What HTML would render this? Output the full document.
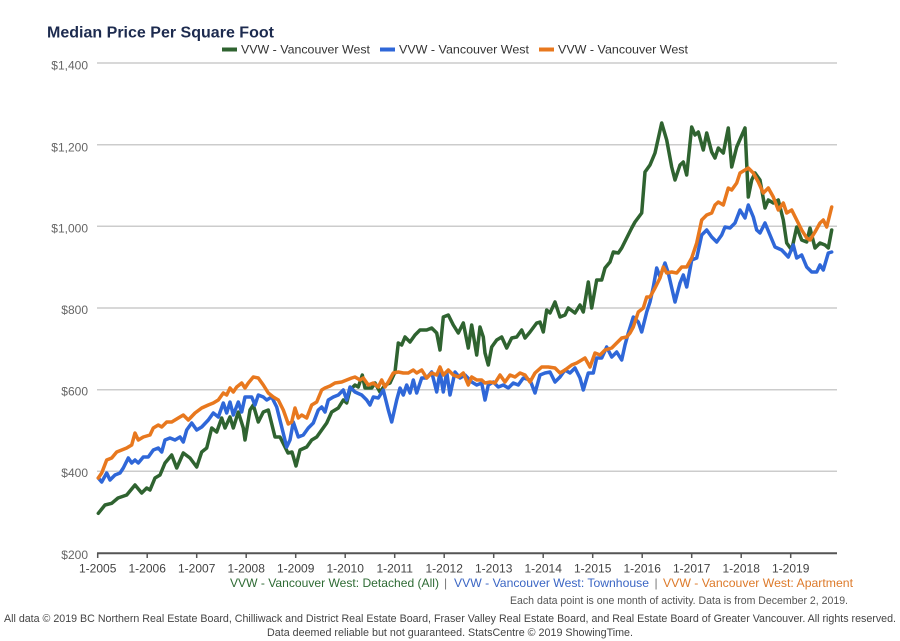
<!DOCTYPE html>
<html>
<head>
<meta charset="utf-8">
<style>
  html,body{margin:0;padding:0;background:#fff;}
  svg{display:block;font-family:"Liberation Sans",Arial,sans-serif;}
</style>
</head>
<body>
<svg width="900" height="641" viewBox="0 0 900 641" xmlns="http://www.w3.org/2000/svg">
  <rect width="900" height="641" fill="#fff"/>
  <!-- title -->
  <text x="47" y="37.5" font-size="16" font-weight="bold" fill="#1d2b4f" textLength="227" lengthAdjust="spacingAndGlyphs">Median Price Per Square Foot</text>

  <!-- top legend -->
  <rect x="222" y="47.5" width="15" height="4" fill="#2f6330"/>
  <text x="241" y="53.5" font-size="12" fill="#333" textLength="129" lengthAdjust="spacingAndGlyphs">VVW - Vancouver West</text>
  <rect x="380" y="47.5" width="15" height="4" fill="#2f67d8"/>
  <text x="399" y="53.5" font-size="12" fill="#333" textLength="130" lengthAdjust="spacingAndGlyphs">VVW - Vancouver West</text>
  <rect x="539" y="47.5" width="15" height="4" fill="#e8781e"/>
  <text x="558" y="53.5" font-size="12" fill="#333" textLength="130" lengthAdjust="spacingAndGlyphs">VVW - Vancouver West</text>

  <!-- gridlines -->
  <g stroke="#cccccc" stroke-width="1.5">
    <line x1="97" y1="63" x2="837" y2="63"/>
    <line x1="97" y1="144.7" x2="837" y2="144.7"/>
    <line x1="97" y1="226.3" x2="837" y2="226.3"/>
    <line x1="97" y1="308" x2="837" y2="308"/>
    <line x1="97" y1="389.7" x2="837" y2="389.7"/>
    <line x1="97" y1="471.3" x2="837" y2="471.3"/>
  </g>
  <!-- y labels -->
  <g font-size="12" fill="#666" text-anchor="end">
    <text x="88" y="69.5">$1,400</text>
    <text x="88" y="151.5">$1,200</text>
    <text x="88" y="232.5">$1,000</text>
    <text x="88" y="314">$800</text>
    <text x="88" y="395.5">$600</text>
    <text x="88" y="477">$400</text>
    <text x="88" y="559">$200</text>
  </g>

  <!-- series -->
  <g fill="none" stroke-width="3.5" stroke-linejoin="round" stroke-linecap="round">
    <polyline stroke="#2f6330" points="98.3,513.3 105,505 111.7,503.3 118,498 126.7,495 135,485 141.7,493 146.7,488 150,490 155,478 160,475 165,463 171.7,455 176.7,468 183.3,453 190,458 196.7,467 201.7,452 206.7,448 211.7,428 216.7,432 221.7,418 225,428 230,417 233.3,428 238.3,412 243.3,428 245,440 250,410 253.3,405 258.3,422 263.3,412 268.3,410 275,437 280,437 284,445 288,453 292,452 296,466 300,450 306.7,447 311.7,440 316.7,437 321.7,430 326.7,423 331.7,412 338.3,408 343.3,400 346.7,403 350,390 355,385 358.3,387 362.3,375 365,388 371.7,388 375,383 380,392 385,385 390,383 395,372 398.3,343 401.7,345 405,337 410,342 415,335 420,330 426.7,330 431.7,328 436.7,333 440,350 443.3,317 448.3,315 453.3,325 458.3,333 463.3,323 468.3,348 471.7,325 476.7,355 480,327 483.3,337 485,353 488.3,365 491.7,347 496.7,340 501.7,337 506.7,348 511.7,338 516.7,337 521.7,330 525,338 530,332 536.7,323 540,322 543.3,332 546.7,310 550,313 555,302 560,317 565,315 568.3,308 575,313 580,305 583.3,312 588.3,282 591.7,308 596.7,280 601.7,280 605,268 610,262 613.3,252 618.3,253 621.7,248 626.7,238 631.7,228 635,222 641.7,213 645,172 650,165 655,153 661.7,123 666.7,140 671.7,167 675,180 680,165 683.3,162 686.7,175 691.7,127 695,135 698.3,132 703.3,150 706.7,133 711.7,152 715,158 718.3,148 723.3,153 728.3,128 731.7,167 736.7,147 745,128 748.3,197 751.7,180 755,173 760,180 765,208 768.3,200 773.3,203 778.3,200 783.3,220 786.7,243 791.7,250 796.7,227 801.7,240 806.7,242 810,228 815,248 820,243 825,245 828.3,248 831.7,230"/>
    <polyline stroke="#2f67d8" points="98.3,478 101.7,482 106.7,473 110,480 115,475 120,473 123.3,468 128.3,458 131.7,463 135,460 138.3,463 143.3,457 148.3,457 153.3,450 158.3,448 161.7,452 165,440 170,438 175,440 180,437 183.3,442 186.7,430 191.7,423 196.7,430 201.7,427 208.3,420 213.3,413 218.3,417 223.3,403 226.7,413 230,402 233.3,415 238.3,402 241.7,412 245,397 251.7,397 255,405 258.3,395 263.3,397 266.7,400 271.7,397 276.7,407 281.7,427 286.7,447 290,440 293.3,422 298.3,437 303.3,435 308.3,428 313.3,423 318.3,410 321.7,407 325,412 328.3,400 333.3,397 338.3,395 343.3,390 346.7,400 350,387 355,392 361.7,395 366.7,400 370,405 373.3,397 378.3,398 383.3,390 388.3,410 391.7,422 396.7,400 400,388 403.3,395 406.7,385 410,393 413.3,380 416.7,393 421.7,378 426.7,378 431.7,372 436.7,392 440,372 443.3,392 446.7,372 450,395 455,372 460,378 465,375 471.7,382 476.7,385 481.7,383 485,400 488.3,385 493.3,382 498.3,387 503.3,385 508.3,388 513.3,383 518.3,385 523.3,378 530,380 535,393 540,375 545,373 550,372 555,382 560,377 565,370 570,373 575,368 580,378 583.3,390 588.3,373 593.3,373 596.7,358 601.7,358 606.7,347 611.7,357 616.7,352 621.7,360 625,345 628.3,333 633.3,317 638.3,322 641.7,332 646.7,312 650,302 653.3,287 656.7,268 660,277 665,263 668.3,273 675,302 680,283 683.3,275 686.7,287 691.7,260 696.7,258 701.7,235 706.7,230 711.7,237 716.7,242 721.7,235 725,227 730,228 735,223 740,210 745,218 748.3,205 753.3,217 756.7,230 760,233 765,223 770,235 775,247 781.7,250 788.3,257 793.3,245 796.7,258 801.7,255 806.7,267 811.7,272 816.7,272 820,265 823.3,270 828.3,253 831.7,252"/>
    <polyline stroke="#e8781e" points="98.3,478 101.7,473 106.7,460 111.7,458 116.7,452 121.7,450 126.7,448 131.7,445 135,433 138.3,440 143.3,437 150,435 153.3,428 158.3,425 161.7,427 166.7,422 171.7,422 178.3,418 183.3,415 188.3,420 195,413 201.7,408 208.3,405 213.3,403 218.3,400 223.3,393 226.7,395 230,388 233.3,392 236.7,387 241.7,383 245,388 248.3,383 253.3,377 258.3,378 263.3,385 268.3,393 273.3,397 278.3,400 283.3,410 288.3,424 291.7,422 295,408 298.3,418 301.7,415 306.7,418 311.7,405 316.7,402 321.7,390 325,388 330,386 335,383 341.7,382 346.7,380 351.7,378 355,377 360,380 363.3,378 368.3,385 373.3,383 378.3,387 381.7,380 385,387 388.3,382 393.3,373 398.3,372 403.3,373 408.3,373 413.3,370 416.7,373 421.7,370 426.7,378 431.7,373 436.7,375 440,367 443.3,375 448.3,370 453.3,375 458.3,377 463.3,373 468.3,385 471.7,377 476.7,380 481.7,380 485,383 490,382 495,383 500,375 505,382 510,375 515,377 520,373 525,375 530,382 535,373 541.7,367 548.3,367 555,368 560,373 565,370 571.7,365 576.7,363 581.7,360 585,358 590,367 595,353 600,355 605,350 611.7,348 616.7,343 621.7,338 626.7,337 630,333 633.3,327 638.3,312 643.3,308 646.7,297 650,297 655,288 660,278 663.3,267 666.7,273 671.7,272 676.7,273 681.7,267 686.7,267 691.7,258 696.7,243 701.7,220 706.7,215 711.7,213 715,205 718.3,202 723.3,205 728.3,188 731.7,190 736.7,183 740,173 745,170 748.3,168 753.3,173 758.3,182 763.3,193 768.3,188 773.3,197 778.3,210 783.3,203 786.7,213 791.7,210 796.7,220 801.7,230 806.7,238 810,240 815,232 820,223 823.3,220 826.7,227 831.7,207"/>
  </g>

  <!-- x axis -->
  <line x1="97" y1="553.3" x2="837" y2="553.3" stroke="#555" stroke-width="2"/>
  <g stroke="#555" stroke-width="1.5">
    <line x1="97.7" y1="553" x2="97.7" y2="558"/>
    <line x1="147.2" y1="553" x2="147.2" y2="558"/>
    <line x1="196.7" y1="553" x2="196.7" y2="558"/>
    <line x1="246.2" y1="553" x2="246.2" y2="558"/>
    <line x1="295.7" y1="553" x2="295.7" y2="558"/>
    <line x1="345.2" y1="553" x2="345.2" y2="558"/>
    <line x1="394.7" y1="553" x2="394.7" y2="558"/>
    <line x1="444.2" y1="553" x2="444.2" y2="558"/>
    <line x1="493.7" y1="553" x2="493.7" y2="558"/>
    <line x1="543.2" y1="553" x2="543.2" y2="558"/>
    <line x1="592.7" y1="553" x2="592.7" y2="558"/>
    <line x1="642.2" y1="553" x2="642.2" y2="558"/>
    <line x1="691.7" y1="553" x2="691.7" y2="558"/>
    <line x1="741.2" y1="553" x2="741.2" y2="558"/>
    <line x1="790.7" y1="553" x2="790.7" y2="558"/>
  </g>
  <g font-size="12" fill="#444" text-anchor="middle">
    <text x="97.7" y="572.5">1-2005</text>
    <text x="147.2" y="572.5">1-2006</text>
    <text x="196.7" y="572.5">1-2007</text>
    <text x="246.2" y="572.5">1-2008</text>
    <text x="295.7" y="572.5">1-2009</text>
    <text x="345.2" y="572.5">1-2010</text>
    <text x="394.7" y="572.5">1-2011</text>
    <text x="444.2" y="572.5">1-2012</text>
    <text x="493.7" y="572.5">1-2013</text>
    <text x="543.2" y="572.5">1-2014</text>
    <text x="592.7" y="572.5">1-2015</text>
    <text x="642.2" y="572.5">1-2016</text>
    <text x="691.7" y="572.5">1-2017</text>
    <text x="741.2" y="572.5">1-2018</text>
    <text x="790.7" y="572.5">1-2019</text>
  </g>

  <!-- bottom legend -->
  <g font-size="12">
    <text x="230" y="587" fill="#2e6b34" textLength="209" lengthAdjust="spacingAndGlyphs">VVW - Vancouver West: Detached (All)</text>
    <text x="444" y="587" fill="#777">|</text>
    <text x="454" y="587" fill="#3b66c4" textLength="195" lengthAdjust="spacingAndGlyphs">VVW - Vancouver West: Townhouse</text>
    <text x="654.5" y="587" fill="#777">|</text>
    <text x="663" y="587" fill="#dd7a2a" textLength="190" lengthAdjust="spacingAndGlyphs">VVW - Vancouver West: Apartment</text>
  </g>

  <text x="510" y="604" font-size="11" fill="#555" textLength="338" lengthAdjust="spacingAndGlyphs">Each data point is one month of activity. Data is from December 2, 2019.</text>

  <text x="4" y="622" font-size="11" fill="#444" textLength="892" lengthAdjust="spacingAndGlyphs">All data © 2019 BC Northern Real Estate Board, Chilliwack and District Real Estate Board, Fraser Valley Real Estate Board, and Real Estate Board of Greater Vancouver. All rights reserved.</text>
  <text x="267" y="636" font-size="11" fill="#444" textLength="366" lengthAdjust="spacingAndGlyphs">Data deemed reliable but not guaranteed. StatsCentre © 2019 ShowingTime.</text>
</svg>
</body>
</html>
